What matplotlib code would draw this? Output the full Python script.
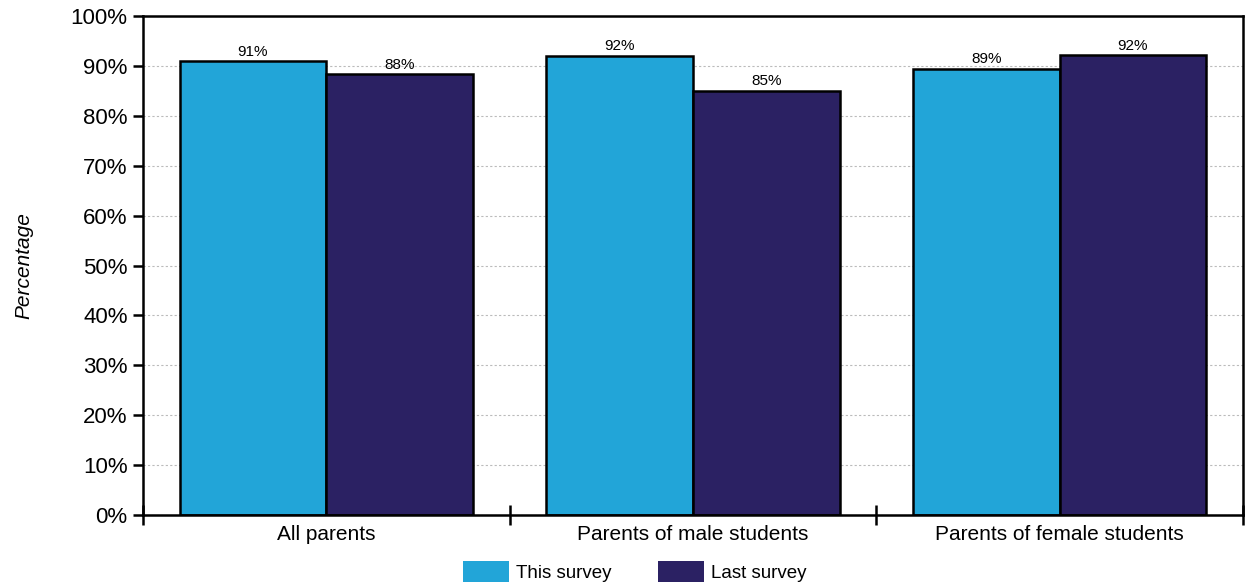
import numpy as np
import matplotlib
matplotlib.use("Agg")
import matplotlib.pyplot as plt
from matplotlib.patches import Patch
from matplotlib.ticker import FuncFormatter

plt.rcParams['font.family'] = ['Liberation Sans', 'DejaVu Sans']

categories = ['All parents', 'Parents of male students', 'Parents of female students']
this_survey = [90.9, 92.0, 89.4]
last_survey = [88.3, 85.0, 92.1]
series_names = ['This survey', 'Last survey']
colors = ['#22A5D8', '#2B2163']

fig = plt.figure(figsize=(12.47, 5.86), dpi=100)
ax = fig.add_axes([143 / 1247, 1 - 515 / 586, 1100 / 1247, 499 / 586])

x = np.arange(len(categories))
w = 0.4
b1 = ax.bar(x - w / 2, this_survey, w, color=colors[0], edgecolor='black', linewidth=1.8, zorder=3)
b2 = ax.bar(x + w / 2, last_survey, w, color=colors[1], edgecolor='black', linewidth=1.8, zorder=3)

for bars, vals in [(b1, this_survey), (b2, last_survey)]:
    for rect, v in zip(bars, vals):
        ax.text(rect.get_x() + rect.get_width() / 2, v + 0.5, f"{round(v)}%",
                ha='center', va='bottom', fontsize=11)

ax.set_xlim(-0.5, len(categories) - 0.5)
ax.set_ylim(0, 100)
ax.set_yticks(np.arange(0, 101, 10))
ax.yaxis.set_major_formatter(FuncFormatter(lambda v, p: f"{int(v)}%"))
ax.tick_params(axis='y', direction='out', length=7, width=1.8, labelsize=16, pad=4)

ax.set_xticks(np.arange(len(categories) + 1) - 0.5)
ax.set_xticklabels([])
ax.set_xticks(x, minor=True)
ax.set_xticklabels(categories, minor=True, fontsize=15)
ax.tick_params(axis='x', which='major', direction='inout', length=14, width=1.8)
ax.tick_params(axis='x', which='minor', length=0, pad=7)

ax.grid(axis='y', linestyle=(0, (2, 2)), color='#bbbbbb', linewidth=0.8, zorder=0)
for s in ax.spines.values():
    s.set_linewidth(1.8)
    s.set_zorder(4)

ax.set_ylabel('Percentage', fontstyle='italic', fontsize=15, labelpad=27)

handles = [Patch(facecolor=c, edgecolor='none') for c in colors]
fig.legend(handles=handles, labels=series_names, loc='lower center',
           bbox_to_anchor=(0.509, -0.012), ncol=2, frameon=False, fontsize=13.5,
           handlelength=2.45, handleheight=1.35, columnspacing=2.45, handletextpad=0.4,
           borderaxespad=0.2)

fig.savefig('out.png', dpi=100)
